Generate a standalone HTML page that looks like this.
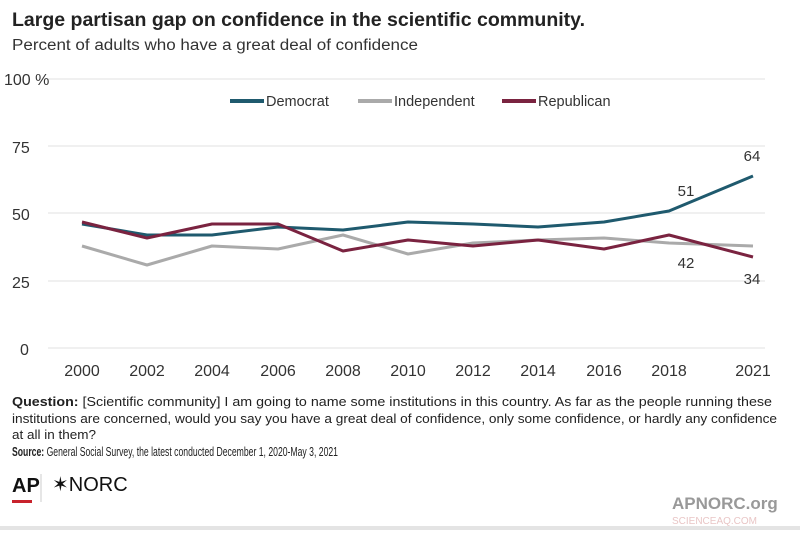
<!DOCTYPE html>
<html><head><meta charset="utf-8"><style>
body{margin:0;width:800px;height:530px;background:#fff;overflow:hidden;font-family:"Liberation Sans",sans-serif;}
</style></head><body>
<svg width="800" height="530" xmlns="http://www.w3.org/2000/svg" font-family="Liberation Sans, sans-serif">
<rect x="0" y="0" width="800" height="530" fill="#fff"/>
<rect x="0" y="526" width="800" height="4" fill="#e4e4e4"/>
<text x="12" y="26" font-size="19" font-weight="bold" fill="#222" textLength="573" lengthAdjust="spacingAndGlyphs">Large partisan gap on confidence in the scientific community.</text>
<text x="12" y="50" font-size="15.5" fill="#333" textLength="406" lengthAdjust="spacingAndGlyphs">Percent of adults who have a great deal of confidence</text>
<g stroke="#e2e2e2" stroke-width="1">
<line x1="48" y1="79" x2="765" y2="79"/><line x1="48" y1="146" x2="765" y2="146"/><line x1="48" y1="213" x2="765" y2="213"/><line x1="48" y1="281" x2="765" y2="281"/><line x1="48" y1="348" x2="765" y2="348"/>
</g>
<g font-size="16" fill="#333">
<text x="4" y="85">100 %</text><text x="12" y="153">75</text><text x="12" y="220">50</text><text x="12" y="288">25</text><text x="20" y="355">0</text>
</g>
<g font-size="16" fill="#333" text-anchor="middle">
<text x="82" y="376">2000</text><text x="147" y="376">2002</text><text x="212" y="376">2004</text><text x="278" y="376">2006</text><text x="343" y="376">2008</text><text x="408" y="376">2010</text><text x="473" y="376">2012</text><text x="538" y="376">2014</text><text x="604" y="376">2016</text><text x="669" y="376">2018</text><text x="753" y="376">2021</text>
</g>
<g font-size="14.5" fill="#333">
<line x1="230" y1="101" x2="264" y2="101" stroke="#1f5a6e" stroke-width="4"/><text x="266" y="106">Democrat</text>
<line x1="358" y1="101" x2="392" y2="101" stroke="#aaa" stroke-width="4"/><text x="394" y="106">Independent</text>
<line x1="502" y1="101" x2="536" y2="101" stroke="#7a2340" stroke-width="4"/><text x="538" y="106">Republican</text>
</g>
<g fill="none" stroke-width="3" stroke-linejoin="round">
<polyline stroke="#aaa" points="82,246 147,265 212,246 278,249 343,235 408,254 473,243 538,240 604,238 669,243 753,246"/>
<polyline stroke="#1f5a6e" points="82,224 147,235 212,235 278,227 343,230 408,222 473,224 538,227 604,222 669,211 753,176"/>
<polyline stroke="#7a2340" points="82,222 147,238 212,224 278,224 343,251 408,240 473,246 538,240 604,249 669,235 753,257"/>
</g>
<g font-size="15" fill="#333" text-anchor="middle">
<text x="752" y="161">64</text><text x="686" y="196">51</text><text x="686" y="268">42</text><text x="752" y="284">34</text>
</g>
<text x="12" y="406" font-size="13" fill="#222" textLength="760" lengthAdjust="spacingAndGlyphs"><tspan font-weight="bold">Question:</tspan> [Scientific community] I am going to name some institutions in this country. As far as the people running these</text>
<text x="12" y="423" font-size="13" fill="#222" textLength="765" lengthAdjust="spacingAndGlyphs">institutions are concerned, would you say you have a great deal of confidence, only some confidence, or hardly any confidence</text>
<text x="12" y="439" font-size="13" fill="#222" textLength="84" lengthAdjust="spacingAndGlyphs">at all in them?</text>
<text x="12" y="456" font-size="13" fill="#222" textLength="326" lengthAdjust="spacingAndGlyphs"><tspan font-weight="bold">Source:</tspan> General Social Survey, the latest conducted December 1, 2020-May 3, 2021</text>
<text x="12" y="492" font-size="20" font-weight="bold" fill="#111">AP</text>
<rect x="12" y="500" width="20" height="3" fill="#c8222c"/>
<line x1="41" y1="474" x2="41" y2="502" stroke="#ccc" stroke-width="1"/>
<text x="52" y="491" font-size="20" fill="#111">✶NORC</text>
<text x="672" y="509" font-size="17" font-weight="bold" fill="#999">APNORC.org</text>
<text x="672" y="524" font-size="10" fill="#e9c6c6">SCIENCEAQ.COM</text>
</svg>
</body></html>
